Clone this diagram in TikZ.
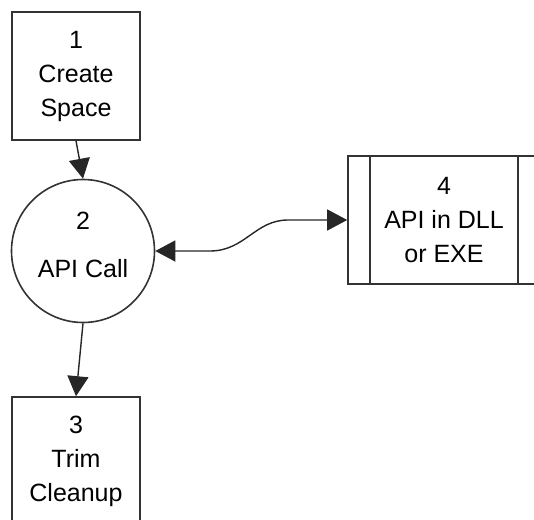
\documentclass[tikz,border=0pt]{standalone}
\usepackage{fontspec}
\setmainfont{Liberation Sans}
\usetikzlibrary{arrows.meta,positioning}
\tikzset{
  dfd/.style={draw=black!80, line width=1.6pt},
  proc/.style={dfd, minimum width=128pt, minimum height=128pt, align=center, inner sep=0pt},
  tip/.tip={Triangle[length=20pt,width=21pt]},
  flow/.style={draw=black!85, fill=black, line width=1.4pt, -tip},
}
\begin{document}
\begin{tikzpicture}[x=1pt, y=-1pt, font=\fontsize{25}{34}\selectfont]
    \useasboundingbox (0,0) rectangle (534,519);
    \clip (0,0) rectangle (534,519);

    % processes
    \node[proc] (create) at (76,76) {1\\Create\\Space};
    \node[dfd, circle, minimum size=143pt, inner sep=0pt, align=center] (call) at (83,251) {2\\[14pt]API Call\rule[-12pt]{0pt}{0pt}};
    \node[proc] (trim) at (76,461) {3\\Trim\\Cleanup};

    % external entity, cut off on the right
    \node[dfd, minimum width=192pt, minimum height=128pt, inner sep=0pt, align=center] (dll) at (444,220) {4\\API in DLL\\or EXE};
    \draw[dfd] ([xshift=23pt]dll.north west) -- ([xshift=23pt]dll.south west);
    \draw[dfd] ([xshift=-23pt]dll.north east) -- ([xshift=-23pt]dll.south east);

    % flows
    \coordinate (k1) at (210,251);
    \coordinate (k2) at (288,220);
    \draw[flow, fill=none] (create.south) -- (call.north);
    \draw[flow, fill=none] (call.south) -- (trim.north);
    \draw[flow, fill=none, tip-tip] (call.east) -- (k1) .. controls (245,251) and (255,220) .. (k2) -- (dll.west);
\end{tikzpicture}
\end{document}
